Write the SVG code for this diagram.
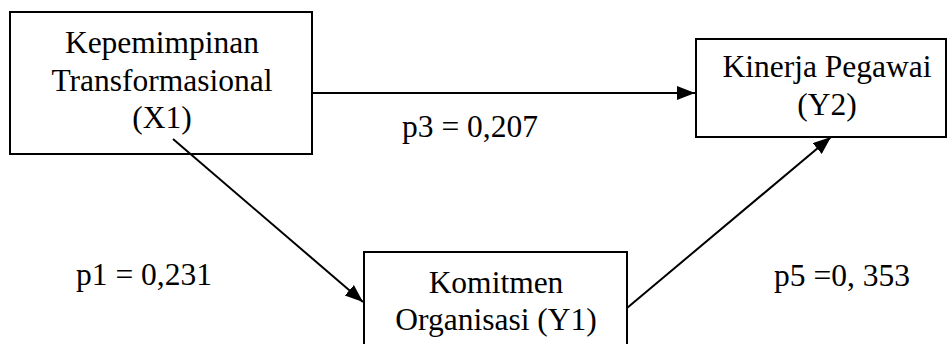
<svg xmlns="http://www.w3.org/2000/svg" width="947" height="344" viewBox="0 0 947 344">
<style>
.box{fill:#fff;stroke:#000;stroke-width:2}
.t{font-family:"Liberation Serif","Times New Roman",serif;font-size:31.5px;fill:#000;text-anchor:middle}
.c{stroke:#000;stroke-width:2;fill:none}
</style>
<defs>
<marker id="ah" markerUnits="userSpaceOnUse" markerWidth="20" markerHeight="16" refX="18" refY="7" orient="auto">
<path d="M0,0 L18,7 L0,14 z" fill="#000"/>
</marker>
</defs>
<rect width="947" height="344" fill="#fff"/>
<g id="X1">
<rect class="box" x="10" y="12" width="302" height="142"/>
<text class="t" x="162" y="53">Kepemimpinan</text>
<text class="t" x="162" y="91">Transformasional</text>
<text class="t" x="162" y="128">(X1)</text>
</g>
<g id="Y2">
<rect class="box" x="696" y="39" width="250" height="98"/>
<text class="t" x="827" y="77">Kinerja Pegawai</text>
<text class="t" x="827" y="115">(Y2)</text>
</g>
<g id="Y1">
<rect class="box" x="364" y="252" width="263" height="100"/>
<text class="t" x="496" y="293">Komitmen</text>
<text class="t" x="496" y="330">Organisasi (Y1)</text>
</g>
<g id="connectors">
<line class="c" x1="312" y1="93" x2="695" y2="93" marker-end="url(#ah)"/>
<line class="c" x1="173" y1="139" x2="363" y2="302" marker-end="url(#ah)"/>
<line class="c" x1="627" y1="308" x2="831" y2="137" marker-end="url(#ah)"/>
</g>
<g id="labels">
<text class="t" x="470" y="137">p3 = 0,207</text>
<text class="t" x="144" y="285">p1 = 0,231</text>
<text class="t" x="842" y="286">p5 =0, 353</text>
</g>
</svg>
